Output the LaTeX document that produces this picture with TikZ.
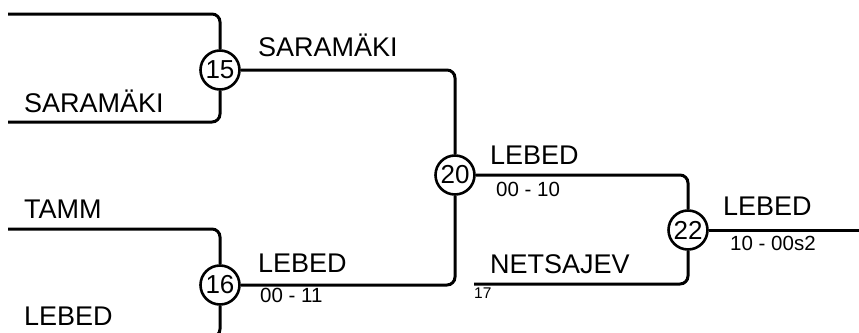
\documentclass[tikz,border=0pt]{standalone}
\usepackage{fontspec}
\setmainfont{Liberation Sans}
\begin{document}
\begin{tikzpicture}[
  x=1pt, y=-1pt,
  match/.style={
    draw, circle, line width=2.6pt,
    minimum size=39pt, inner sep=0pt,
    font=\fontsize{26}{26}\selectfont
  },
  wire/.style={line width=3pt, rounded corners=8pt},
  player/.style={anchor=base west, inner sep=0pt, font=\fontsize{27}{30}\selectfont},
  score/.style={anchor=base west, inner sep=0pt, font=\fontsize{20.5}{24}\selectfont},
  seed/.style={anchor=base west, inner sep=0pt, font=\fontsize{15.5}{18}\selectfont}
]
\useasboundingbox (0,0) rectangle (859,332);

% --- Matches ---
\node[match] (m15) at (220,70) {15};
\node[match] (m16) at (220,285) {16};
\node[match] (m20) at (455,175) {20};
\node[match] (m22) at (688,230) {22};

% --- Free ends ---
\coordinate (e1) at (8,14);
\coordinate (e2) at (8,122);
\coordinate (e3) at (8,229);
\coordinate (e4) at (8,337);
\coordinate (e17) at (474,284);
\coordinate (eout) at (859,230);

% --- Wires ---
\draw[wire] (e1) -| (m15.north);
\draw[wire] (e2) -| (m15.south);
\draw[wire] (e3) -| (m16.north);
\draw[wire] (e4) -| (m16.south);
\draw[wire] (m15.east) -| (m20.north);
\draw[wire] (m16.east) -| (m20.south);
\draw[wire] (m20.east) -| (m22.north);
\draw[wire] (e17) -| (m22.south);
\draw[wire] (m22.east) -- (eout);

% --- Names and scores ---
\node[player] (p1) at (24,112) {SARAMÄKI};
\node[player] (p3) at (24,218) {TAMM};
\node[player] (p4) at (24,325) {LEBED};
\node[player] (w15) at (258,56) {SARAMÄKI};
\node[player] (w16) at (258,272) {LEBED};
\node[score] (s16) at (260,302.5) {00 - 11};
\node[player] (w20) at (490,164) {LEBED};
\node[score] (s20) at (496,196) {00 - 10};
\node[player] (p17) at (490,273) {NETSAJEV};
\node[seed] (n17) at (474,298.5) {17};
\node[player] (w22) at (723,215) {LEBED};
\node[score] (s22) at (730,250) {10 - 00s2};

\end{tikzpicture}
\end{document}
